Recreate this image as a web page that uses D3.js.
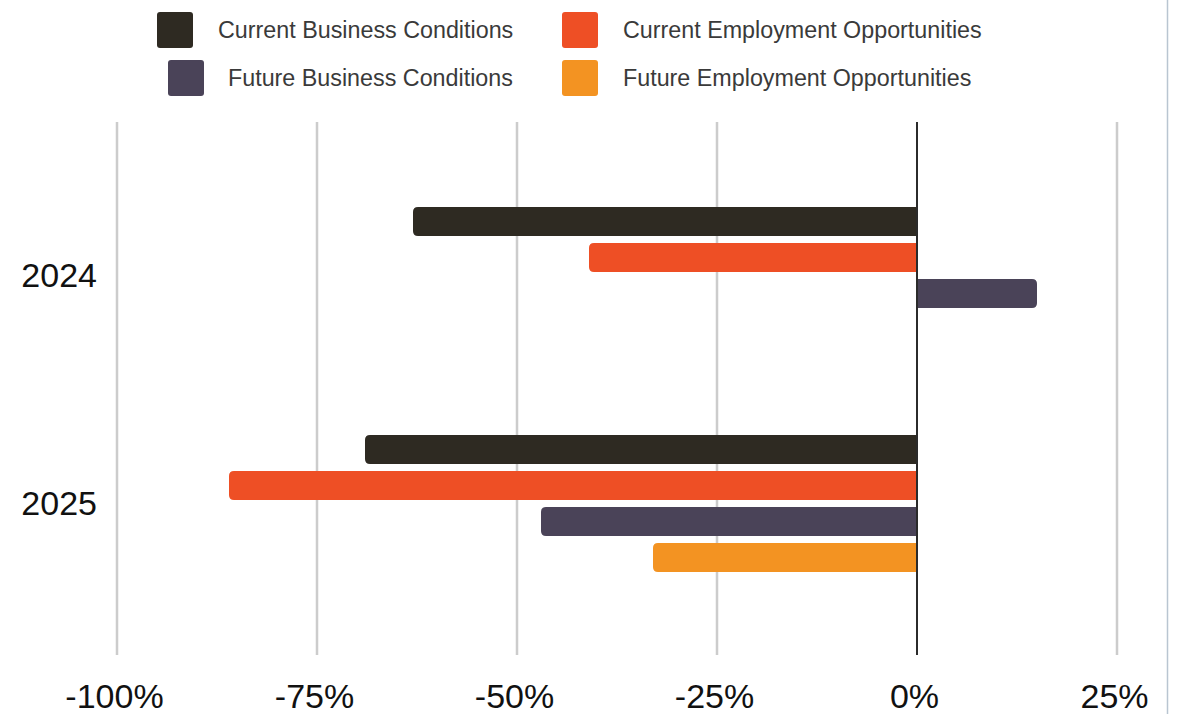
<!DOCTYPE html>
<html>
<head>
<meta charset="utf-8">
<script src="https://cdn.jsdelivr.net/npm/d3@7"></script>
<style>
  html, body { margin: 0; padding: 0; background: #fff; }
  svg { display: block; }
  text { font-family: "Liberation Sans", Arial, sans-serif; }
</style>
</head>
<body>
<svg id="chart" width="1179" height="714"></svg>
<script>
// Survey outlook: share of positive minus negative responses
const years = ["2024", "2025"];
const series = [
  "Current Business Conditions",
  "Current Employment Opportunities",
  "Future Business Conditions",
  "Future Employment Opportunities"
];
const colors = ["#2e2a22", "#ee4f25", "#4a4358", "#f39322"];
const values2024 = [-63, -41, 15, null];
const values2025 = [-69, -86, -47, -33];
const xTicks = [-100, -75, -50, -25, 0, 25];

const rows = years.map((y, i) => ({
  year: y,
  values: (i === 0 ? values2024 : values2025)
}));

const svg = d3.select("#chart");
const W = 1179, H = 714;
const plot = { left: 117, right: 1117, top: 122, bottom: 657 };

const x = d3.scaleLinear().domain([-100, 25]).range([plot.left, plot.right]);
const y0 = d3.scaleBand().domain(years).range([plot.top, plot.bottom])
  .paddingInner(0.368).paddingOuter(0.357);
const y1 = d3.scaleBand().domain(series).range([0, y0.bandwidth()])
  .paddingInner(0.194).paddingOuter(0.097);
const color = d3.scaleOrdinal().domain(series).range(colors);

// frame line on the right
svg.append("line")
  .attr("x1", 1167.5).attr("x2", 1167.5).attr("y1", 0).attr("y2", H)
  .attr("stroke", "#b9c5d1").attr("stroke-width", 1.5);

// vertical gridlines
svg.append("g").selectAll("line")
  .data(xTicks.filter(d => d !== 0))
  .join("line")
  .attr("x1", d => x(d)).attr("x2", d => x(d))
  .attr("y1", plot.top).attr("y2", plot.bottom - 2)
  .attr("stroke", "#cccccc").attr("stroke-width", 2.5);

// bars: rounded only at the outer end
function barPath(v, yTop, h) {
  const x0 = x(0), x1 = x(v);
  const r = Math.min(5, Math.abs(x1 - x0) / 2);
  const s = v < 0 ? -1 : 1;
  return `M${x0},${yTop}` +
    `L${x1 - s * r},${yTop}` +
    `Q${x1},${yTop} ${x1},${yTop + r}` +
    `L${x1},${yTop + h - r}` +
    `Q${x1},${yTop + h} ${x1 - s * r},${yTop + h}` +
    `L${x0},${yTop + h}Z`;
}

const groups = svg.append("g").selectAll("g")
  .data(rows)
  .join("g")
  .attr("transform", d => `translate(0,${y0(d.year)})`);

groups.selectAll("path")
  .data(d => d.values.map((v, i) => ({ key: series[i], v })).filter(e => e.v !== null))
  .join("path")
  .attr("d", e => barPath(e.v, y1(e.key), y1.bandwidth()))
  .attr("fill", e => color(e.key));

// zero line
svg.append("line")
  .attr("x1", x(0)).attr("x2", x(0))
  .attr("y1", plot.top).attr("y2", plot.bottom - 2)
  .attr("stroke", "#2b2b2b").attr("stroke-width", 2);

// x axis labels
const xAxis = d3.axisBottom(x).tickValues(xTicks).tickFormat(d => d + "%").tickSize(0).tickPadding(0);
const gx = svg.append("g").attr("transform", `translate(0,708)`).call(xAxis);
gx.select(".domain").remove();
gx.selectAll("text")
  .attr("font-family", "Liberation Sans, Arial, sans-serif")
  .attr("font-size", 34).attr("fill", "#111")
  .attr("y", 0).attr("dy", 0).attr("dx", -3);

// y axis labels
const yAxis = d3.axisLeft(y0).tickSize(0).tickPadding(0);
const gy = svg.append("g").attr("transform", `translate(97,0)`).call(yAxis);
gy.select(".domain").remove();
gy.selectAll("text")
  .attr("font-family", "Liberation Sans, Arial, sans-serif")
  .attr("font-size", 34).attr("fill", "#111").attr("dy", "0.35em");

// legend
const legendItems = [
  { key: series[0], sx: 157, sy: 12, tx: 218 },
  { key: series[1], sx: 562, sy: 12, tx: 623 },
  { key: series[2], sx: 168, sy: 60, tx: 228 },
  { key: series[3], sx: 562, sy: 60, tx: 623 }
];
const lg = svg.append("g").selectAll("g").data(legendItems).join("g");
lg.append("rect")
  .attr("x", d => d.sx).attr("y", d => d.sy)
  .attr("width", 36).attr("height", 36).attr("rx", 3)
  .attr("fill", d => color(d.key));
lg.append("text")
  .attr("x", d => d.tx).attr("y", d => d.sy + 18).attr("dy", "0.35em")
  .attr("font-size", 23.3).attr("fill", "#3a3a3a")
  .text(d => d.key);
</script>
</body>
</html>
